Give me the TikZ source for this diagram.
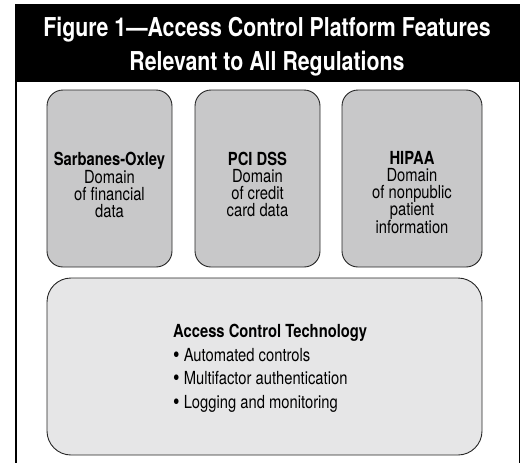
\documentclass[tikz,border=0pt]{standalone}
\usepackage{fontspec}
\setmainfont{TeX Gyre Heros}[FakeStretch=0.82]
\definecolor{boxgray}{HTML}{C8C8C9}
\definecolor{techgray}{HTML}{E6E6E7}
\newcommand{\bigbullet}{\raisebox{-0.07em}{\scalebox{1.25}{\textbullet}}}
\begin{document}
\begin{tikzpicture}[x=1pt,y=-1pt,
  domainbox/.style={draw=black!85, line width=0.9pt, fill=boxgray, rounded corners=16pt, minimum height=177pt, inner sep=0pt},
  techbox/.style={draw=black!85, line width=0.9pt, fill=techgray, rounded corners=24pt, minimum width=435pt, minimum height=177pt, inner sep=0pt},
  domaintext/.style={align=center, anchor=north, inner sep=0pt, font=\fontsize{18}{17}\selectfont},
  techtext/.style={align=left, anchor=north west, inner sep=0pt, font=\fontsize{18}{23.5}\selectfont},
  titletext/.style={align=center, text=white, inner sep=0pt, font=\fontsize{26}{34}\selectfont\bfseries}
]
\useasboundingbox (0,0) rectangle (522,463);
% frame and header
\fill[black] (15,4) rectangle (520,82);
\draw[line width=2pt] (16,82) -- (16,463);
\draw[line width=1.2pt] (519.4,82) -- (519.4,463);
\node[titletext] (title) at (267,47) {Figure 1—Access Control Platform Features\\Relevant to All Regulations};
% domain boxes
\node[domainbox, minimum width=125pt] (sox) at (109.5,178.5) {};
\node[domainbox, minimum width=125pt] (pci) at (257.5,178.5) {};
\node[domainbox, minimum width=140pt] (hipaa) at (412,178.5) {};
\node[domaintext] (soxt) at (109.5,151.5) {\textbf{Sarbanes-Oxley}\\Domain\\of financial\\data};
\node[domaintext] (pcit) at (257.5,151.5) {\textbf{PCI DSS}\\Domain\\of credit\\card data};
\node[domaintext] (hipaat) at (412,151.5) {\textbf{HIPAA}\\Domain\\of nonpublic\\patient\\information};
% technology box
\node[techbox] (tech) at (264.5,366.5) {};
\node[techtext] (techt) at (173,324) {\textbf{Access Control Technology}\\\bigbullet{} Automated controls\\\bigbullet{} Multifactor authentication\\\bigbullet{} Logging and monitoring};
\end{tikzpicture}
\end{document}
